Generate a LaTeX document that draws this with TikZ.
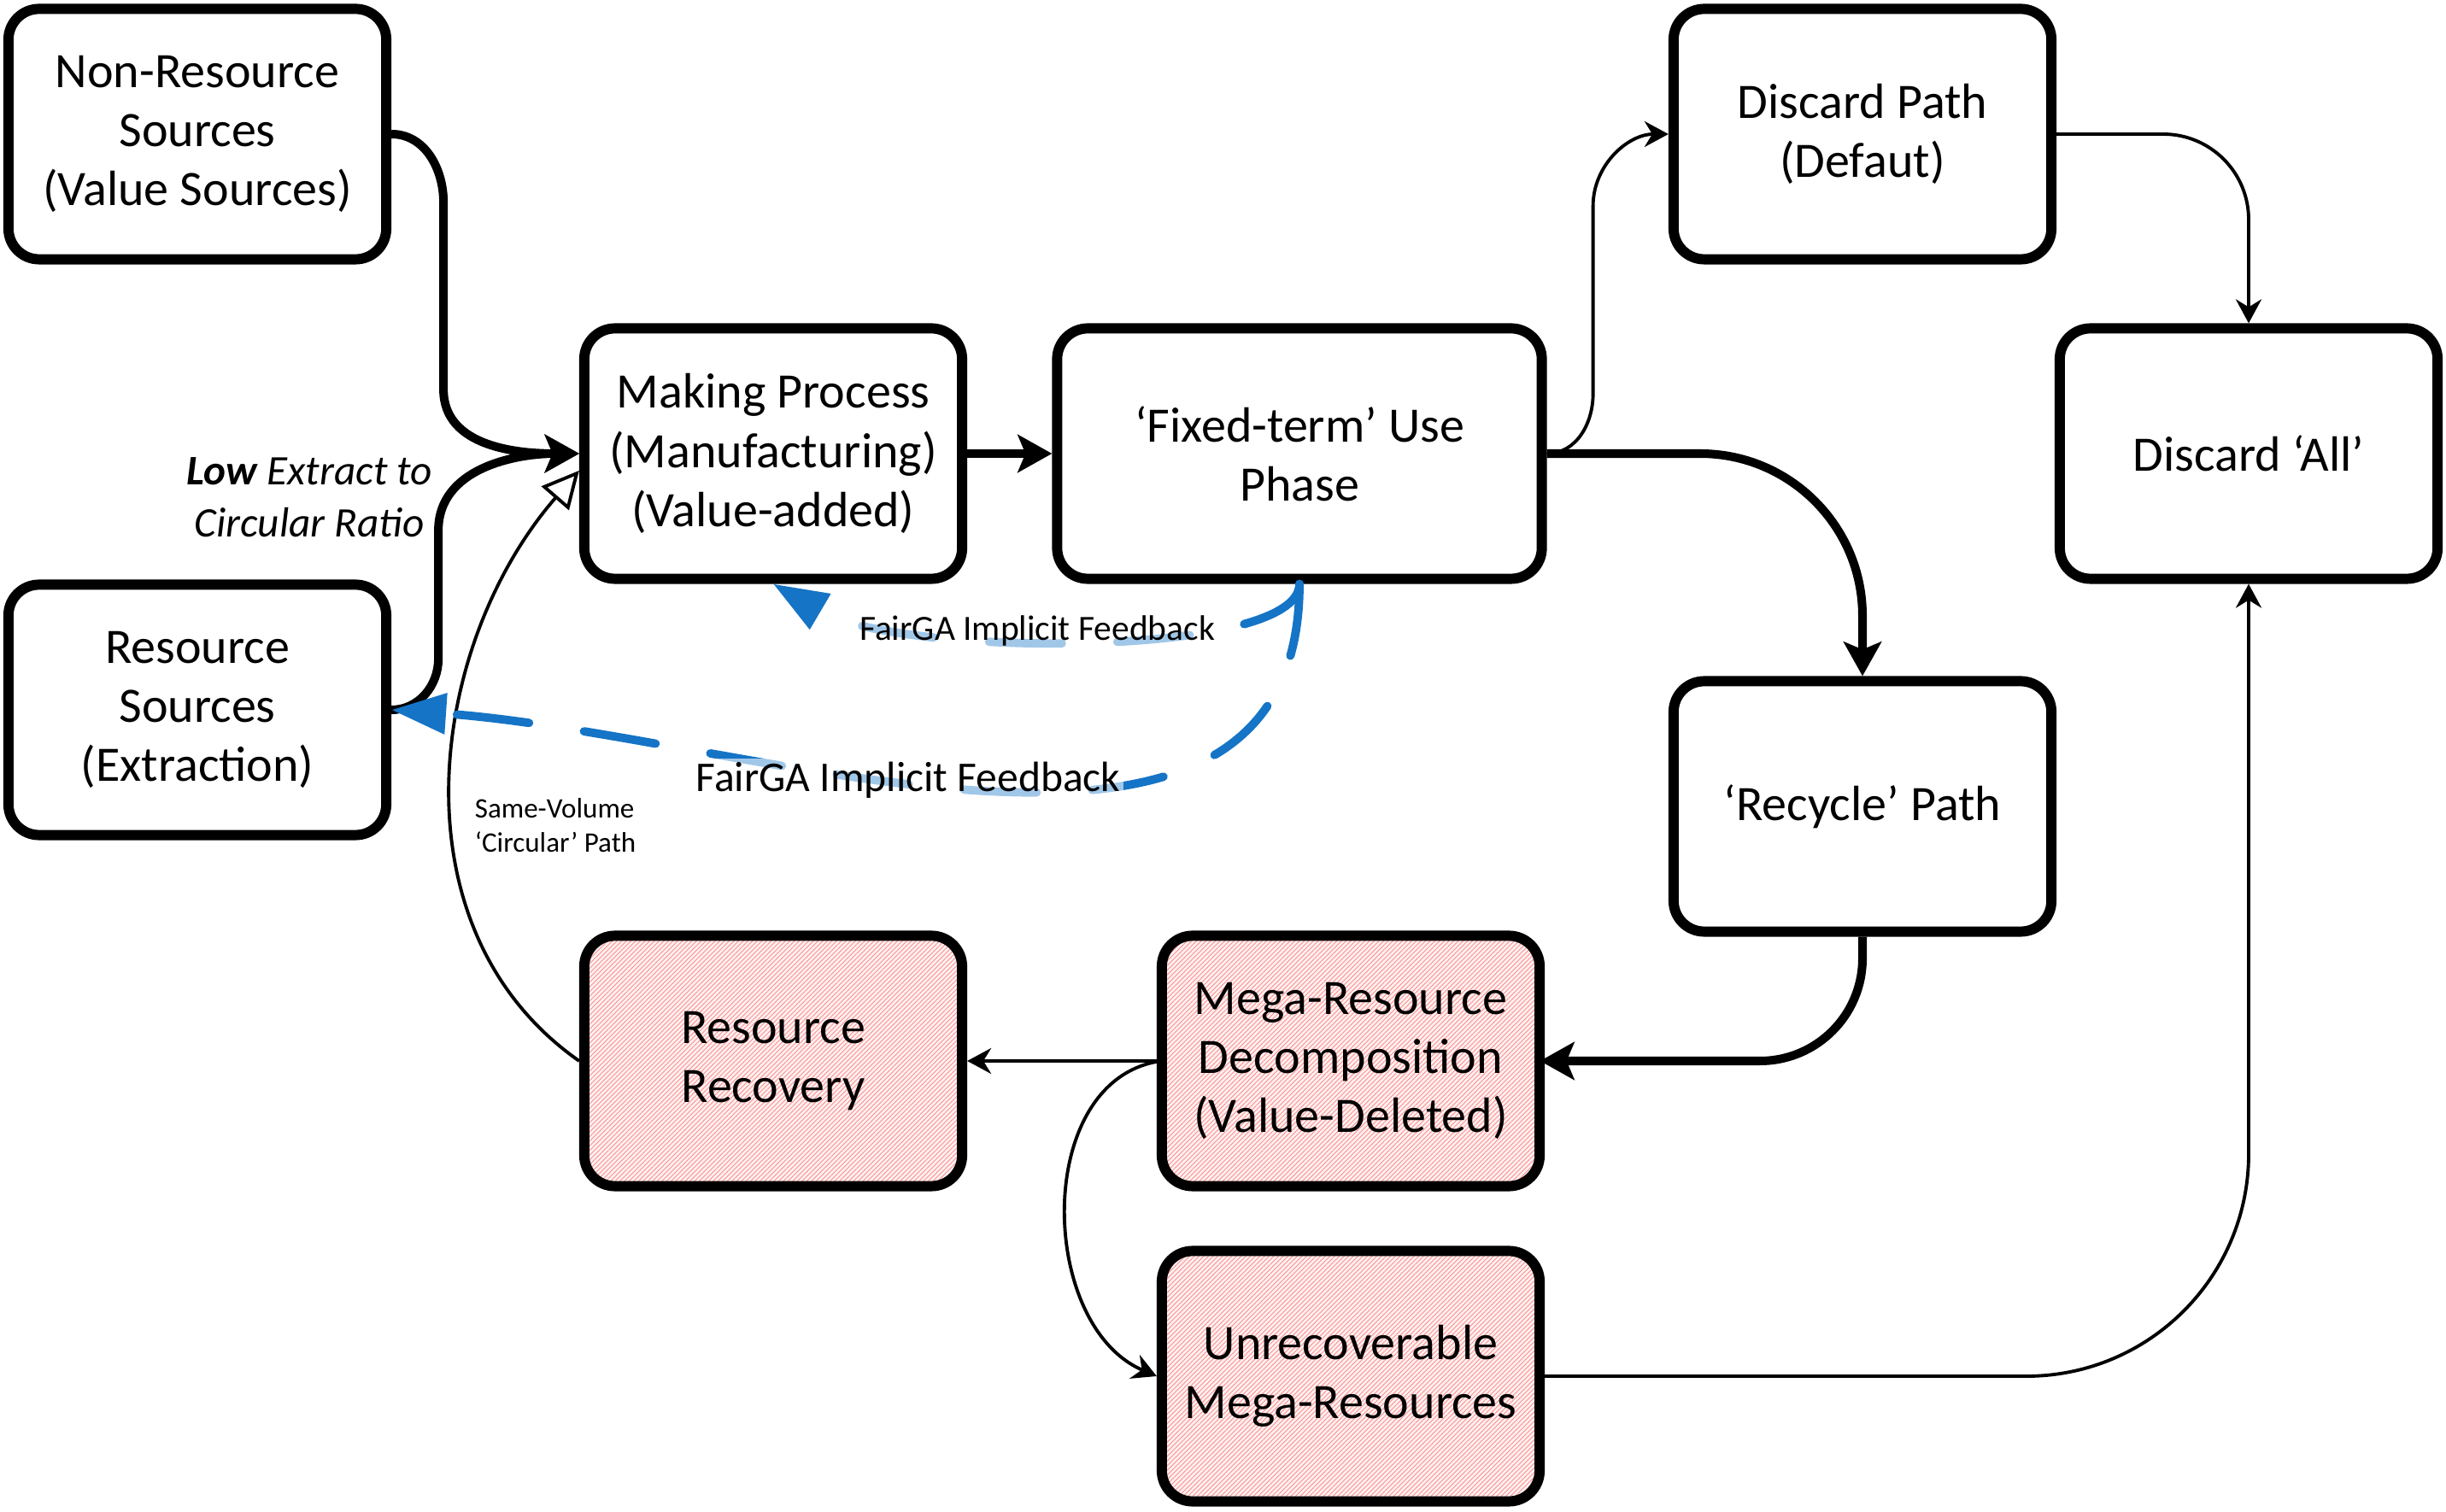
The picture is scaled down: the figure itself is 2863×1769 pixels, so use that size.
\documentclass[tikz,border=0pt]{standalone}
\usepackage{fontspec}
\setmainfont{Carlito}
\usetikzlibrary{arrows.meta, patterns.meta}
\definecolor{fbblue}{RGB}{21,116,198}
\definecolor{hatchbg}{RGB}{253,241,241}

\begin{document}
\begin{tikzpicture}[x=0.01cm, y=0.01cm,
  stagebox/.style={draw, line width=3.4pt, rounded corners=0.36cm, minimum width=4.42cm,
                   minimum height=2.93cm, align=center, inner sep=2pt,
                   font=\fontsize{16.5}{19.7}\selectfont},
  hatchbox/.style={stagebox, preaction={fill=hatchbg},
                   pattern={Lines[angle=45,distance=1.1pt,line width=0.25pt]}, pattern color=red!45},
  flow/.style={-{Stealth[length=0.4cm,width=0.44cm,inset=0.09cm]}, line width=2.85pt},
  link/.style={-{Stealth[length=0.28cm,width=0.3cm]}, line width=1.1pt},
  back/.style={-{Triangle[fill=white,length=0.43cm,width=0.42cm]}, line width=1.1pt},
  fback/.style={-{Triangle[length=0.64cm,width=0.46cm]}, fbblue, line width=2.8pt,
                dash pattern=on 0.85cm off 0.65cm, line cap=round},
  note/.style={fill=white, fill opacity=0.6, text opacity=1, inner sep=1pt},
]
\useasboundingbox (0,0) rectangle (2863,1769);

% Sources
\node[stagebox] (nonres) at (231,1612) {Non-Resource\\Sources\\(Value Sources)};
\node[stagebox] (res) at (231,938) {Resource\\Sources\\(Extraction)};

% Making and use
\node[stagebox] (make) at (905,1238) {Making Process\\(Manufacturing)\\(Value-added)};
\node[stagebox, minimum width=5.67cm] (use) at (1521,1238) {‘Fixed-term’ Use\\Phase};

% End-of-use paths
\node[stagebox] (discpath) at (2180,1612) {Discard Path\\(Defaut)};
\node[stagebox] (discall) at (2632,1238) {Discard ‘All’};
\node[stagebox] (recycle) at (2180,825) {‘Recycle’ Path};

% Decomposition (hatched)
\node[hatchbox] (decomp) at (1581,527) {Mega-Resource\\Decomposition\\(Value-Deleted)};
\node[hatchbox] (recov) at (905,527) {Resource\\Recovery};
\node[hatchbox] (unrec) at (1581,158) {Unrecoverable\\Mega-Resources};

% Labels
\node[font=\fontsize{14}{17.4}\selectfont\itshape, align=center] (lowlbl) at (362,1187)
  {\textbf{Low} Extract to\\Circular Ratio};
\node[font=\fontsize{9.4}{11.4}\selectfont, align=left] (svlbl) at (650,803)
  {Same-Volume\\‘Circular’ Path};

% Main flow
\draw[flow] (nonres.east) to[out=0,in=90] ++(61,-80) -- ++(0,-219) to[out=-90,in=180] (make.west);
\draw[flow] (res.east) to[out=0,in=-90] ++(55,60) -- ++(0,150) to[out=90,in=180] (make.west);
\draw[flow] (make) -- (use);
\draw[link] (use.east) to[out=0,in=-90] ++(54,70) -- ++(0,220) to[out=90,in=180] (discpath.west);
\draw[flow, rounded corners=1.9cm] (use.east) -| (recycle.north);
\draw[link, rounded corners=1cm] (discpath.east) -| (discall.north);
\draw[flow, rounded corners=1.2cm] (recycle.south) |- (decomp.east);
\draw[link] (decomp) -- (recov);
\draw[link] (decomp.west) .. controls +(-150,-20) and +(-140,60) .. (unrec.west);
\draw[link, rounded corners=2.6cm] (unrec.east) -| (discall.south);

% Same-volume loop
\draw[back] (recov.west) .. controls +(-221,155) and +(-177,-204) .. (make.185);

% Feedback
\draw[fback] (use.south) .. controls +(0,-88) and +(146,-86) .. (make.south);
\draw[fback] (use.south) to[out=-90, in=-4] (res.east);
\node[note, font=\fontsize{11.8}{14}\selectfont] (fbup) at (1214,1031) {FairGA Implicit Feedback};
\node[note, font=\fontsize{14.1}{17}\selectfont] (fblow) at (1063,856) {FairGA Implicit Feedback};

\end{tikzpicture}
\end{document}
